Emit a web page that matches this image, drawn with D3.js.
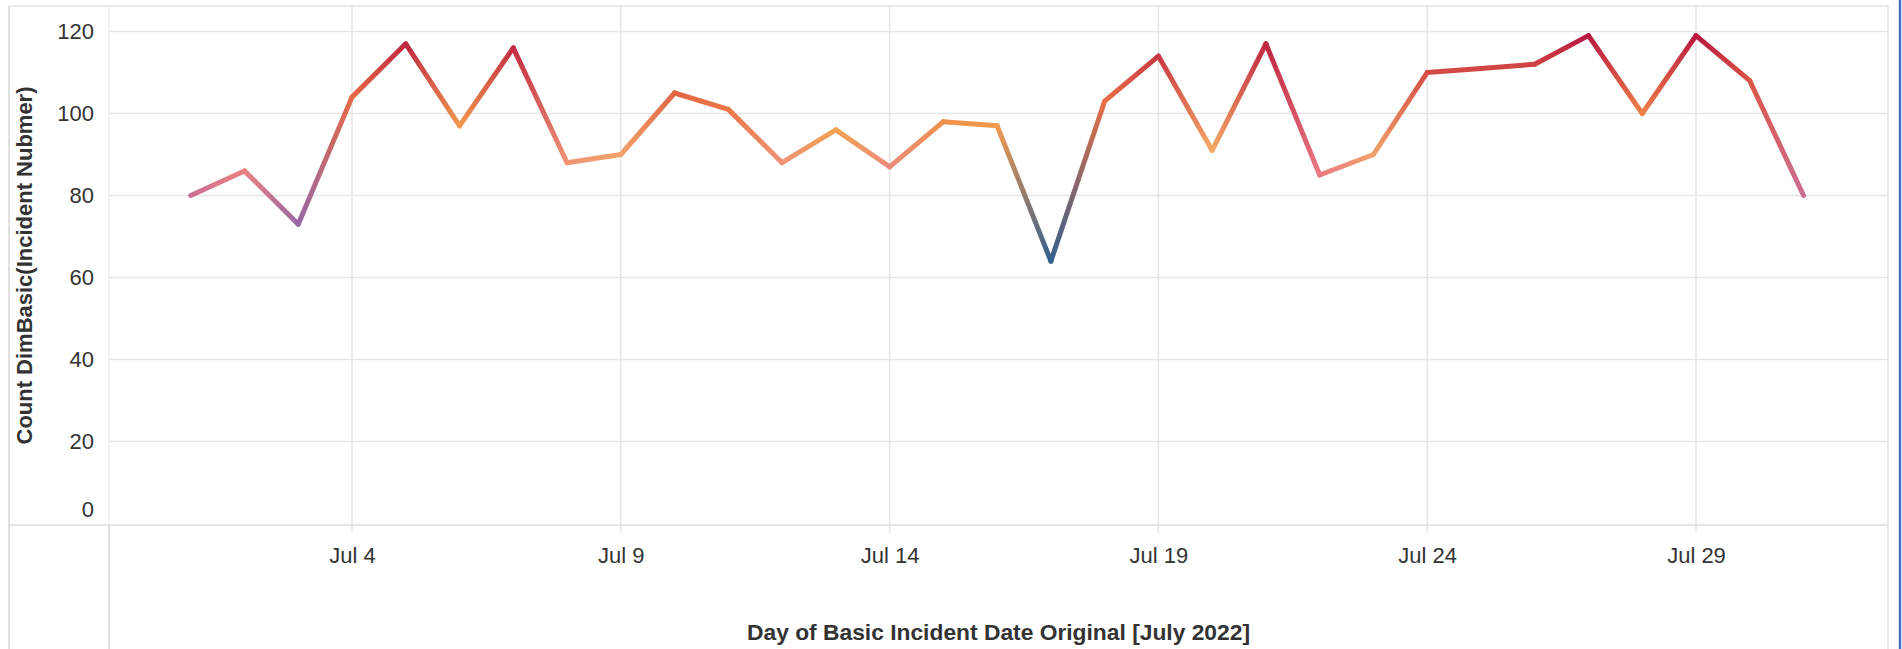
<!DOCTYPE html>
<html>
  <head>
    <meta charset="utf-8">
    <title>Incidents July 2022</title>
    <script src="https://d3js.org/d3.v7.min.js"></script>
    <style>
      body { margin:0; background:#fff; }
      text { font-family: "Liberation Sans", Arial, sans-serif; }
    </style>
  </head>
  <body>
  <script type="text/javascript">
    // data
    var days = d3.range(1, 32);
    var counts = [80,86,73,104,117,97,116,88,90,105,101,88,96,87,98,97,64,
                  103,114,91,117,85,90,110,111,112,119,100,119,108,80];
    var xTickDays = [4, 9, 14, 19, 24, 29];
    var xTickLabels = ['Jul 4','Jul 9','Jul 14','Jul 19','Jul 24','Jul 29'];
    var yTicks = [0, 20, 40, 60, 80, 100, 120];
    var palette = ['#33608c','#9768a5','#e7718a','#f6ba57','#ed7846','#d54c45','#b81840'];
    var paletteStops = [64, 73, 84, 93, 101, 110, 119];

    var W = 1902, H = 649;
    var plot = {left:109, right:1888, top:6, bottom:525};

    var svg = d3.select('body')
               .append('svg')
               .attr('width', W)
               .attr('height', H);

    var date = function(d){ return new Date(2022, 6, d) };
    var x = d3.scaleTime()
              .domain([date(4), date(29)])
              .range([352, 1696]);
    var y = d3.scaleLinear()
              .domain([0, 120])
              .range([523.5, 31.5]);

    var color = d3.scaleLinear()
                  .domain(paletteStops)
                  .range(palette)
                  .interpolate(d3.interpolateLab);

    /* grid */
    var grid = svg.append('g').attr('stroke', '#e6e6e6').attr('stroke-width', 1.5);
    grid.selectAll('line.h')
        .data(yTicks.filter(function(v){ return v > 0 }))
        .enter().append('line')
        .attr('x1', plot.left).attr('x2', plot.right)
        .attr('y1', function(d){ return y(d) }).attr('y2', function(d){ return y(d) });
    grid.selectAll('line.v')
        .data(xTickDays)
        .enter().append('line')
        .attr('y1', plot.top).attr('y2', plot.bottom + 8)
        .attr('x1', function(d){ return x(date(d)) }).attr('x2', function(d){ return x(date(d)) });

    /* frame */
    var frame = svg.append('g').attr('fill', 'none');
    frame.append('line').attr('x1', 9).attr('x2', plot.right).attr('y1', plot.top).attr('y2', plot.top)
         .attr('stroke', '#e3e3e3').attr('stroke-width', 1.5);
    frame.append('line').attr('x1', 9).attr('x2', 9).attr('y1', plot.top).attr('y2', H)
         .attr('stroke', '#d6d6d6').attr('stroke-width', 1.5);
    frame.append('line').attr('x1', plot.left).attr('x2', plot.left).attr('y1', plot.top).attr('y2', plot.bottom)
         .attr('stroke', '#eeeeee').attr('stroke-width', 1.5);
    frame.append('line').attr('x1', plot.left).attr('x2', plot.left).attr('y1', plot.bottom).attr('y2', H)
         .attr('stroke', '#d6d6d6').attr('stroke-width', 1.5);
    frame.append('line').attr('x1', 9).attr('x2', plot.right).attr('y1', plot.bottom).attr('y2', plot.bottom)
         .attr('stroke', '#dcdcdc').attr('stroke-width', 1.5);
    frame.append('line').attr('x1', plot.right).attr('x2', plot.right).attr('y1', plot.top).attr('y2', H)
         .attr('stroke', '#e3e3e3').attr('stroke-width', 1.5);
    frame.append('line').attr('x1', 1900).attr('x2', 1900).attr('y1', 0).attr('y2', H)
         .attr('stroke', '#4472c4').attr('stroke-width', 2.5);

    /* axes */
    var yAxis = svg.append('g')
       .attr('transform', 'translate(' + plot.left + ',0)')
       .call(d3.axisLeft(y).tickValues(yTicks).tickSize(0).tickPadding(15));
    yAxis.select('.domain').remove();
    yAxis.selectAll('text')
         .attr('font-size', 22)
         .attr('font-family', '"Liberation Sans", Arial, sans-serif')
         .attr('fill', '#333')
         .attr('y', function(d){ return d === 0 ? -14 : 0 });

    var xAxis = svg.append('g')
       .attr('transform', 'translate(0,' + plot.bottom + ')')
       .call(d3.axisBottom(x)
               .tickValues(xTickDays.map(date))
               .tickFormat(function(d, i){ return xTickLabels[i] })
               .tickSize(0));
    xAxis.select('.domain').remove();
    xAxis.selectAll('text')
         .attr('y', 38).attr('dy', 0)
         .attr('font-size', 22)
         .attr('font-family', '"Liberation Sans", Arial, sans-serif')
         .attr('fill', '#333');

    /* titles */
    svg.append('text')
       .attr('x', (plot.left + plot.right) / 2)
       .attr('y', 640)
       .attr('text-anchor', 'middle')
       .attr('font-size', 22)
       .attr('font-weight', 'bold')
       .attr('fill', '#333')
       .attr('textLength', 503)
       .attr('lengthAdjust', 'spacingAndGlyphs')
       .text('Day of Basic Incident Date Original [July 2022]');
    svg.append('text')
       .attr('transform', 'translate(32,' + (plot.top + plot.bottom) / 2 + ') rotate(-90)')
       .attr('text-anchor', 'middle')
       .attr('font-size', 22)
       .attr('font-weight', 'bold')
       .attr('fill', '#333')
       .attr('textLength', 358)
       .attr('lengthAdjust', 'spacingAndGlyphs')
       .text('Count DimBasic(Incident Nubmer)');

    /* line, each segment with a gradient between its end colours */
    var pts = days.map(function(d, i){ return {x: x(date(d)), y: y(counts[i]), v: counts[i]} });
    var segs = d3.pairs(pts);
    var defs = svg.append('defs');
    var grads = defs.selectAll('linearGradient')
        .data(segs)
        .enter().append('linearGradient')
        .attr('id', function(d, i){ return 'seg' + i })
        .attr('gradientUnits', 'userSpaceOnUse')
        .attr('x1', function(d){ return d[0].x }).attr('y1', function(d){ return d[0].y })
        .attr('x2', function(d){ return d[1].x }).attr('y2', function(d){ return d[1].y });
    grads.append('stop').attr('offset', '0%').attr('stop-color', function(d){ return color(d[0].v) });
    grads.append('stop').attr('offset', '100%').attr('stop-color', function(d){ return color(d[1].v) });

    svg.append('g').selectAll('line')
       .data(segs)
       .enter().append('line')
       .attr('x1', function(d){ return d[0].x }).attr('y1', function(d){ return d[0].y })
       .attr('x2', function(d){ return d[1].x }).attr('y2', function(d){ return d[1].y })
       .attr('stroke', function(d, i){ return 'url(#seg' + i + ')' })
       .attr('stroke-width', 5)
       .attr('stroke-linecap', 'round');
  </script>
  </body>
</html>
